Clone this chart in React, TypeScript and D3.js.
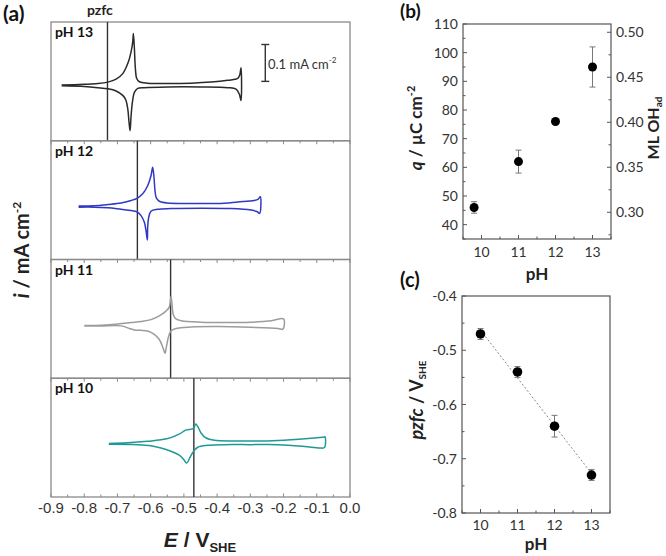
import React from 'react';
import * as d3 from 'd3';

// ---------- Panel (a) data ----------
const eTicks = [-0.9, -0.8, -0.7, -0.6, -0.5, -0.4, -0.3, -0.2, -0.1, 0.0];
const eTickLabels = ['-0.9', '-0.8', '-0.7', '-0.6', '-0.5', '-0.4', '-0.3', '-0.2', '-0.1', '0.0'];
const phLabels = ['pH 13', 'pH 12', 'pH 11', 'pH 10'];
const pzfcE = [-0.73, -0.64, -0.54, -0.47];
const cvColors = ['#2a2a2a', '#3038c4', '#9c9c9c', '#1e9a94'];

// [E (V vs SHE), i (µA cm^-2)]
const cv13: [number, number][] = [
  [-0.868, -10], [-0.8, -8], [-0.759, -6], [-0.729, -2], [-0.704, 6], [-0.684, 21], [-0.667, 53],
  [-0.659, 80], [-0.654, 107], [-0.652, 130], [-0.649, 89], [-0.646, 35], [-0.642, 8], [-0.634, -1],
  [-0.609, -5], [-0.549, -6], [-0.478, -5], [-0.418, -2], [-0.368, 3], [-0.338, 8], [-0.332, 17],
  [-0.328, 37], [-0.328, -52], [-0.333, -35], [-0.343, -21], [-0.368, -17], [-0.448, -15],
  [-0.549, -15], [-0.619, -17], [-0.639, -19], [-0.649, -30], [-0.655, -57], [-0.659, -94],
  [-0.662, -134], [-0.665, -112], [-0.669, -74], [-0.675, -50], [-0.684, -38], [-0.704, -26],
  [-0.729, -20], [-0.759, -17], [-0.8, -14], [-0.868, -12],
];
const cv12: [number, number][] = [
  [-0.817, -16], [-0.769, -15], [-0.729, -12], [-0.689, -8], [-0.659, -1], [-0.641, 5], [-0.624, 17],
  [-0.609, 39], [-0.599, 66], [-0.594, 89], [-0.59, 62], [-0.587, 26], [-0.583, 6], [-0.574, -3],
  [-0.549, -8], [-0.478, -9], [-0.398, -9], [-0.338, -5], [-0.288, -1], [-0.276, 3], [-0.27, 9],
  [-0.272, -36], [-0.28, -31], [-0.298, -27], [-0.358, -23], [-0.448, -22], [-0.539, -23],
  [-0.579, -25], [-0.599, -30], [-0.606, -47], [-0.609, -74], [-0.61, -108], [-0.614, -83],
  [-0.619, -60], [-0.629, -42], [-0.641, -32], [-0.659, -28], [-0.689, -25], [-0.729, -21],
  [-0.769, -19], [-0.817, -19],
];
const cv11: [number, number][] = [
  [-0.8, -18], [-0.749, -17], [-0.699, -14], [-0.659, -10], [-0.629, -7], [-0.599, -2], [-0.574, 8],
  [-0.554, 21], [-0.544, 32], [-0.539, 60], [-0.536, 44], [-0.532, 12], [-0.524, 0], [-0.508, -5],
  [-0.448, -9], [-0.378, -10], [-0.298, -9], [-0.237, -5], [-0.2, 0], [-0.202, -28], [-0.217, -26],
  [-0.298, -23], [-0.398, -21], [-0.478, -22], [-0.524, -26], [-0.539, -33], [-0.547, -51],
  [-0.553, -78], [-0.557, -93], [-0.563, -78], [-0.574, -56], [-0.589, -42], [-0.609, -33],
  [-0.629, -31], [-0.649, -30], [-0.664, -26], [-0.689, -19], [-0.749, -19], [-0.8, -19],
];
const cv10: [number, number][] = [
  [-0.726, -16], [-0.669, -14], [-0.609, -10], [-0.569, -6], [-0.539, 0], [-0.513, 10], [-0.493, 21],
  [-0.478, 23], [-0.47, 26], [-0.465, 37], [-0.458, 30], [-0.448, 12], [-0.433, -1], [-0.408, -7],
  [-0.348, -9], [-0.247, -9], [-0.177, -6], [-0.117, -2], [-0.077, 2], [-0.075, 2], [-0.077, -27],
  [-0.092, -28], [-0.137, -24], [-0.217, -19], [-0.298, -19], [-0.378, -19], [-0.428, -21],
  [-0.458, -26], [-0.47, -36], [-0.48, -51], [-0.492, -69], [-0.5, -60], [-0.513, -48],
  [-0.539, -37], [-0.569, -28], [-0.599, -22], [-0.639, -19], [-0.726, -18],
];
const cvData = [cv13, cv12, cv11, cv10];
const scaleBarE = -0.255;
const scaleBarI = [0, 100];

// ---------- Panel (b) data ----------
const phB = [9.8, 11, 12, 13];
const qB = [46, 62, 76, 95];
const qErr = [2, 4, 0, 7];
const qTicks = [40, 50, 60, 70, 80, 90, 100, 110];
const mlTicks = [0.3, 0.35, 0.4, 0.45, 0.5];
const phTicks = [10, 11, 12, 13];

// ---------- Panel (c) data ----------
const phC = [10, 11, 12, 13];
const pzfcC = [-0.47, -0.54, -0.64, -0.73];
const pzfcErr = [0.01, 0.01, 0.02, 0.01];
const pzfcTicks = [-0.8, -0.7, -0.6, -0.5, -0.4];
const pzfcTickLabels = ['-0.8', '-0.7', '-0.6', '-0.5', '-0.4'];

const LATO = 'Lato, "Open Sans", sans-serif';
const ARIAL = '"Liberation Sans", Arial, sans-serif';

export default function App() {
  // ---------- Panel (a) layout ----------
  const aL = 51, aR = 350, aT = 22, aB = 497;
  const ph = (aB - aT) / 4;
  const xE = d3.scaleLinear().domain([-0.9, 0]).range([aL, aR]);
  const minorE = d3.range(-0.9, 0.001, 0.05);
  const panels = [0, 1, 2, 3].map((k) => {
    const top = aT + k * ph;
    const y = d3.scaleLinear().domain([-161, 161]).range([top + ph, top]);
    return { top, y };
  });

  // ---------- Panel (b) layout ----------
  const bL = 463, bR = 611, bT = 24, bB = 239;
  const xB = d3.scaleLinear().domain([9.5, 13.5]).range([bL, bR]);
  const yB = d3.scaleLinear().domain([35, 110]).range([bB, bT]);
  const yB2 = d3.scaleLinear().domain([0.2703, 0.5092]).range([bB, bT]);

  // ---------- Panel (c) layout ----------
  const cL = 462, cR = 610, cT = 296, cB = 513;
  const xC = d3.scaleLinear().domain([9.5, 13.5]).range([cL, cR]);
  const yC = d3.scaleLinear().domain([-0.8, -0.4]).range([cB, cT]);

  // linear fit for panel (c)
  const mx = d3.mean(phC)!, my = d3.mean(pzfcC)!;
  const slope = d3.sum(phC.map((p, i) => (p - mx) * (pzfcC[i] - my))) / d3.sum(phC.map((p) => (p - mx) ** 2));
  const fitAt = (p: number) => my + slope * (p - mx);

  const tickColor = '#555';
  const frameA = '#8a8a8a';
  const frameB = '#555';

  return (
    <svg width={666} height={556} style={{ position: 'absolute', left: 0, top: 0, background: '#fff' }}>
      <rect width={666} height={556} fill="#fff" />
      {/* ======== Panel (a) ======== */}
      <text x={3} y={21} fontFamily={LATO} fontWeight="bold" fontSize={21} fill="#111">(a)</text>
      <text x={87} y={15} fontFamily={LATO} fontWeight="bold" fontSize={14} fill="#222">pzfc</text>
      {panels.map(({ top, y }, k) => {
        const line = d3
          .line<[number, number]>()
          .x((d) => xE(d[0]))
          .y((d) => y(d[1]))
          .curve(d3.curveCatmullRom.alpha(0.5));
        return (
          <g key={k}>
            <rect x={aL} y={top} width={aR - aL} height={ph} fill="none" stroke={frameA} strokeWidth={1.3} />
            {k > 0 &&
              minorE.map((e, j) => (
                <line key={j} x1={xE(e)} x2={xE(e)} y1={top} y2={top + (j % 2 === 0 ? 3.5 : 2.5)} stroke={frameA} strokeWidth={1} />
              ))}
            <line x1={xE(pzfcE[k])} x2={xE(pzfcE[k])} y1={top} y2={top + ph} stroke="#333" strokeWidth={1.4} />
            <path d={line(cvData[k]) || ''} fill="none" stroke={cvColors[k]} strokeWidth={1.5} strokeLinejoin="round" />
            <text x={55} y={top + 15} fontFamily={LATO} fontWeight="bold" fontSize={14} fill="#111">{phLabels[k]}</text>
          </g>
        );
      })}
      {/* bottom ticks */}
      {minorE.map((e, j) => (
        <line key={'bt' + j} x1={xE(e)} x2={xE(e)} y1={aB} y2={aB - (j % 2 === 0 ? 3.5 : 2.5)} stroke={frameA} strokeWidth={1} />
      ))}
      {eTicks.map((e, j) => (
        <text key={'el' + j} x={xE(e)} y={513} textAnchor="middle" fontFamily={ARIAL} fontSize={15} fill="#333">{eTickLabels[j]}</text>
      ))}
      <text x={200} y={547} textAnchor="middle" fontFamily={ARIAL} fontWeight="bold" fontSize={21} fill="#222">
        <tspan fontStyle="italic">E</tspan>
        <tspan> / V</tspan>
        <tspan fontSize={13} dy={5}>SHE</tspan>
      </text>
      <text transform="translate(29,250) rotate(-90)" textAnchor="middle" fontFamily={LATO} fontWeight="bold" fontSize={20} fill="#222">
        <tspan fontStyle="italic">i</tspan>
        <tspan> / mA cm</tspan>
        <tspan fontSize={12} dy={-8}>-2</tspan>
      </text>
      {/* scale bar */}
      <g stroke="#333" strokeWidth={1.4}>
        <line x1={xE(scaleBarE)} x2={xE(scaleBarE)} y1={panels[0].y(scaleBarI[0])} y2={panels[0].y(scaleBarI[1])} />
        <line x1={xE(scaleBarE) - 4} x2={xE(scaleBarE) + 4} y1={panels[0].y(scaleBarI[0])} y2={panels[0].y(scaleBarI[0])} />
        <line x1={xE(scaleBarE) - 4} x2={xE(scaleBarE) + 4} y1={panels[0].y(scaleBarI[1])} y2={panels[0].y(scaleBarI[1])} />
      </g>
      <text x={268} y={69} fontFamily={LATO} fontSize={13} fill="#333">
        0.1 mA cm<tspan fontSize={8} dy={-6}>-2</tspan>
      </text>

      {/* ======== Panel (b) ======== */}
      <text x={400} y={18} fontFamily={LATO} fontWeight="bold" fontSize={19} fill="#111">(b)</text>
      <rect x={bL} y={bT} width={bR - bL} height={bB - bT} fill="none" stroke={frameB} strokeWidth={1.2} />
      {d3.range(35, 110.01, 5).map((v, j) => (
        <line key={'bl' + j} x1={bL} x2={bL + (v % 10 === 0 ? 4 : 2.5)} y1={yB(v)} y2={yB(v)} stroke={tickColor} />
      ))}
      {qTicks.map((v) => (
        <text key={'bq' + v} x={bL - 5} y={yB(v) + 5} textAnchor="end" fontFamily={LATO} fontSize={14} fill="#333">{v}</text>
      ))}
      {d3.range(0.275, 0.5051, 0.025).map((v, j) => (
        <line key={'br' + j} x1={bR} x2={bR - (Math.round(v * 1000) % 50 === 0 ? 4 : 2.5)} y1={yB2(v)} y2={yB2(v)} stroke={tickColor} />
      ))}
      {mlTicks.map((v) => (
        <text key={'bm' + v} x={bR + 5} y={yB2(v) + 5} fontFamily={LATO} fontSize={14} fill="#333">{v.toFixed(2)}</text>
      ))}
      {d3.range(9.5, 13.51, 0.5).map((v, j) => (
        <line key={'bb' + j} x1={xB(v)} x2={xB(v)} y1={bB} y2={bB - (v % 1 === 0 ? 4 : 2.5)} stroke={tickColor} />
      ))}
      {phTicks.map((v) => (
        <text key={'bx' + v} x={xB(v)} y={257} textAnchor="middle" fontFamily={LATO} fontSize={14} fill="#333">{v}</text>
      ))}
      <text x={537} y={280} textAnchor="middle" fontFamily={LATO} fontWeight="bold" fontSize={17} fill="#222">pH</text>
      <text transform="translate(422,128) rotate(-90)" textAnchor="middle" fontFamily={LATO} fontWeight="bold" fontSize={17} fill="#222">
        <tspan fontStyle="italic">q</tspan>
        <tspan> / µC cm</tspan>
        <tspan fontSize={11} dy={-7}>-2</tspan>
      </text>
      <text transform="translate(659,128) rotate(-90)" textAnchor="middle" fontFamily={LATO} fontWeight="bold" fontSize={16} fill="#222">
        <tspan>ML OH</tspan>
        <tspan fontSize={10} dy={3}>ad</tspan>
      </text>
      {phB.map((p, j) => (
        <g key={'bd' + j}>
          {qErr[j] > 0 && (
            <g stroke="#777" strokeWidth={1}>
              <line x1={xB(p)} x2={xB(p)} y1={yB(qB[j] - qErr[j])} y2={yB(qB[j] + qErr[j])} />
              <line x1={xB(p) - 3} x2={xB(p) + 3} y1={yB(qB[j] - qErr[j])} y2={yB(qB[j] - qErr[j])} />
              <line x1={xB(p) - 3} x2={xB(p) + 3} y1={yB(qB[j] + qErr[j])} y2={yB(qB[j] + qErr[j])} />
            </g>
          )}
          <circle cx={xB(p)} cy={yB(qB[j])} r={4.5} fill="#000" />
        </g>
      ))}

      {/* ======== Panel (c) ======== */}
      <text x={400} y={287} fontFamily={LATO} fontWeight="bold" fontSize={20} fill="#111">(c)</text>
      <rect x={cL} y={cT} width={cR - cL} height={cB - cT} fill="none" stroke={frameB} strokeWidth={1.2} />
      {d3.range(-0.8, -0.3999, 0.05).map((v, j) => (
        <line key={'cl' + j} x1={cL} x2={cL + (j % 2 === 0 ? 4 : 2.5)} y1={yC(v)} y2={yC(v)} stroke={tickColor} />
      ))}
      {pzfcTicks.map((v, j) => (
        <text key={'cy' + j} x={cL - 5} y={yC(v) + 5} textAnchor="end" fontFamily={LATO} fontSize={14} fill="#333">{pzfcTickLabels[j]}</text>
      ))}
      {d3.range(9.5, 13.51, 0.5).map((v, j) => (
        <line key={'cb' + j} x1={xC(v)} x2={xC(v)} y1={cB} y2={cB - (v % 1 === 0 ? 4 : 2.5)} stroke={tickColor} />
      ))}
      {phTicks.map((v) => (
        <text key={'cx' + v} x={xC(v)} y={530} textAnchor="middle" fontFamily={LATO} fontSize={14} fill="#333">{v}</text>
      ))}
      <text x={536} y={550} textAnchor="middle" fontFamily={LATO} fontWeight="bold" fontSize={17} fill="#222">pH</text>
      <text transform="translate(423,400) rotate(-90)" textAnchor="middle" fontFamily={LATO} fontWeight="bold" fontSize={18} fill="#222">
        <tspan fontStyle="italic">pzfc</tspan>
        <tspan> / V</tspan>
        <tspan fontSize={10} dy={3}>SHE</tspan>
      </text>
      <line x1={xC(phC[0])} x2={xC(phC[3])} y1={yC(fitAt(phC[0]))} y2={yC(fitAt(phC[3]))} stroke="#888" strokeWidth={1} strokeDasharray="2,2" />
      {phC.map((p, j) => (
        <g key={'cd' + j}>
          <g stroke="#777" strokeWidth={1}>
            <line x1={xC(p)} x2={xC(p)} y1={yC(pzfcC[j] - pzfcErr[j])} y2={yC(pzfcC[j] + pzfcErr[j])} />
            <line x1={xC(p) - 3} x2={xC(p) + 3} y1={yC(pzfcC[j] - pzfcErr[j])} y2={yC(pzfcC[j] - pzfcErr[j])} />
            <line x1={xC(p) - 3} x2={xC(p) + 3} y1={yC(pzfcC[j] + pzfcErr[j])} y2={yC(pzfcC[j] + pzfcErr[j])} />
          </g>
          <circle cx={xC(p)} cy={yC(pzfcC[j])} r={4.8} fill="#000" />
        </g>
      ))}
    </svg>
  );
}
